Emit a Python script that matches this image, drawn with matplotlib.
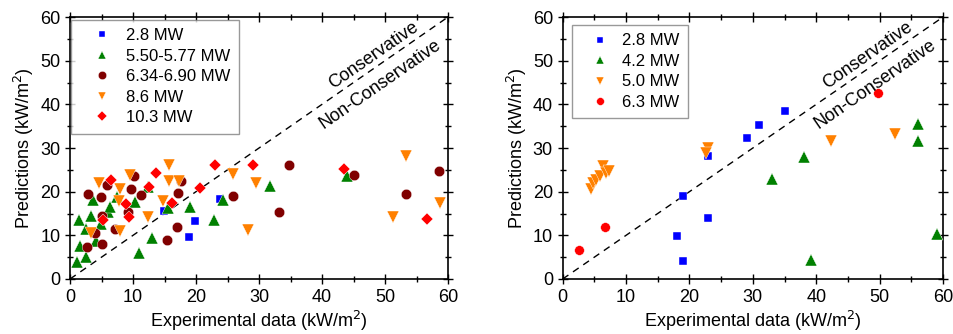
import numpy as np
import matplotlib
matplotlib.use('Agg')
import matplotlib.pyplot as plt
from matplotlib.ticker import MultipleLocator

plt.rcParams['font.family'] = ['Liberation Sans', 'DejaVu Sans']

# Left panel data (experimental, predicted)
l_28_x = [14.9, 19.8, 18.9, 23.8]
l_28_y = [15.6, 13.2, 9.6, 18.3]

l_55_x = [1.1, 1.6, 2.6, 1.4, 2.5, 3.3, 3.6, 4.1, 4.9, 6.1, 6.4, 7.5, 10.3, 10.9,
          12.4, 13.0, 15.6, 19.0, 22.8, 24.3, 31.7, 43.9]
l_55_y = [4.0, 7.5, 5.0, 13.4, 11.5, 14.4, 18.1, 8.8, 12.6, 15.3, 16.6, 18.8, 17.6, 6.0,
          21.0, 9.5, 16.3, 16.6, 13.4, 18.1, 21.2, 23.5]

l_63_x = [2.8, 4.9, 5.8, 9.7, 10.2, 11.2, 17.2, 17.6, 5.0, 9.2, 4.0, 7.2, 2.7, 5.1,
          17.0, 15.4, 25.8, 33.1, 34.7, 45.1, 53.3, 58.6]
l_63_y = [19.5, 18.8, 21.5, 20.6, 23.7, 19.3, 19.7, 22.4, 14.5, 15.3, 10.5, 11.5, 7.3, 8.1,
          11.9, 8.9, 18.9, 15.4, 26.0, 23.9, 19.5, 24.7]

l_86_x = [4.6, 9.6, 7.9, 7.8, 3.3, 8.0, 12.4, 14.7, 15.7, 15.7, 17.3, 25.8, 29.5, 28.3,
          51.3, 53.3, 58.7]
l_86_y = [22.0, 23.9, 20.7, 17.8, 10.5, 11.1, 14.2, 17.8, 26.0, 22.4, 22.5, 24.1, 22.0, 11.3,
          14.2, 28.1, 17.4]

l_103_x = [6.5, 13.6, 12.6, 8.9, 9.4, 5.3, 16.2, 20.7, 23.0, 29.0, 43.5, 56.7]
l_103_y = [22.7, 24.3, 21.0, 17.2, 14.1, 13.6, 17.3, 20.8, 26.0, 26.0, 25.2, 13.8]

# Right panel data
r_28_x = [19.0, 18.0, 19.0, 23.0, 23.0, 29.0, 31.0, 35.0]
r_28_y = [18.9, 9.9, 4.2, 28.2, 14.0, 32.4, 35.3, 38.5]

r_42_x = [33.0, 38.0, 39.1, 56.1, 56.1, 59.0]
r_42_y = [23.0, 28.0, 4.4, 35.4, 31.5, 10.3]

r_50_x = [4.4, 4.8, 5.2, 5.9, 6.4, 6.8, 7.3, 22.9, 22.6, 42.3, 52.5]
r_50_y = [20.5, 21.9, 22.7, 23.6, 25.9, 24.2, 24.8, 30.0, 28.9, 31.5, 33.1]

r_63_x = [2.6, 6.7, 49.7]
r_63_y = [6.6, 11.8, 42.7]

BLUE = '#0000FF'
GREEN = '#008000'
DRED = '#800000'
ORANGE = '#FF8000'
RED = '#FF0000'

left_series = [
    (l_28_x, l_28_y, '2.8 MW', 's', BLUE, 6),
    (l_55_x, l_55_y, '5.50-5.77 MW', '^', GREEN, 8),
    (l_63_x, l_63_y, '6.34-6.90 MW', 'o', DRED, 7.5),
    (l_86_x, l_86_y, '8.6 MW', 'v', ORANGE, 8),
    (l_103_x, l_103_y, '10.3 MW', 'D', RED, 6.5),
]
right_series = [
    (r_28_x, r_28_y, '2.8 MW', 's', BLUE, 6),
    (r_42_x, r_42_y, '4.2 MW', '^', GREEN, 8),
    (r_50_x, r_50_y, '5.0 MW', 'v', ORANGE, 8),
    (r_63_x, r_63_y, '6.3 MW', 'o', RED, 7),
]


def draw(ax, series):
    ax.plot([0, 60], [0, 60], color='black', ls=(0, (5, 4)), lw=1.0, zorder=1)
    for x, y, lab, m, c, ms in series:
        ax.plot(x, y, ls='none', marker=m, color=c, ms=ms, mec='white', mew=0.3,
                label=lab, zorder=3)
    ax.set_xlim(0, 60)
    ax.set_ylim(0, 60)
    ax.xaxis.set_major_locator(MultipleLocator(10))
    ax.xaxis.set_minor_locator(MultipleLocator(5))
    ax.yaxis.set_major_locator(MultipleLocator(10))
    ax.yaxis.set_minor_locator(MultipleLocator(5))
    ax.tick_params(which='both', direction='inout', top=True, right=True,
                   labelsize=13, width=1)
    ax.tick_params(which='major', length=7)
    ax.tick_params(which='minor', length=4)
    for s in ax.spines.values():
        s.set_linewidth(1.2)
    ax.set_xlabel('Experimental data (kW/m$^2$)', fontsize=13, labelpad=2)
    ax.set_ylabel('Predictions (kW/m$^2$)', fontsize=13, labelpad=3)
    ax.text(48.2, 51.2, 'Conservative', rotation=34.7, fontsize=13,
            ha='center', va='center', rotation_mode='anchor')
    ax.text(49.3, 44.5, 'Non-Conservative', rotation=34.7, fontsize=13,
            ha='center', va='center', rotation_mode='anchor')


fig = plt.figure(figsize=(9.54, 3.34), dpi=100)
ax1 = fig.add_axes([0.0734, 0.1647, 0.3962, 0.7843])
ax2 = fig.add_axes([0.5898, 0.1647, 0.3987, 0.7843])

draw(ax1, left_series)
draw(ax2, right_series)

for ax, anchor, hl in ((ax1, (0.003, 0.989), 2.7), (ax2, (0.024, 0.969), 2.4)):
    leg = ax.legend(loc='upper left', bbox_to_anchor=anchor, borderaxespad=0,
                    fontsize=12, frameon=True, fancybox=False,
                    edgecolor='#808080', borderpad=0.5, labelspacing=0.33,
                    handletextpad=0.1, handlelength=hl, markerscale=0.8)
    leg.get_frame().set_linewidth(1.0)

fig.savefig('out.png', dpi=100)
